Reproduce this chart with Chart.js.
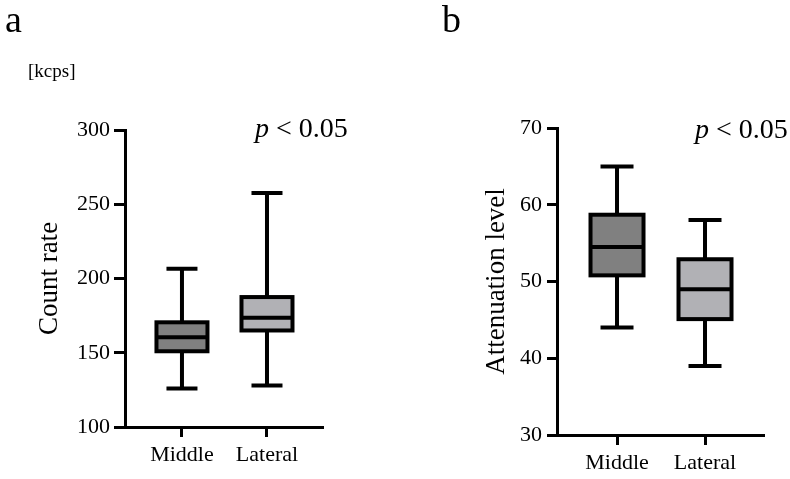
<!DOCTYPE html>
<html>
<head>
    <title>Count rate and attenuation level</title>
    <script src="https://cdn.jsdelivr.net/npm/chart.js"></script>
</head>
<style>
    body { margin: 0; background: #fff; font-family: "Liberation Serif", "Times New Roman", serif; }
    #page { position: relative; width: 790px; height: 479px; }
    .panel { position: absolute; top: 0; width: 395px; height: 479px; }
    .txt { position: absolute; line-height: 1; color: #000; white-space: nowrap; }
</style>
<body>
<div id="page">
    <div class="panel" style="left:0"><canvas id="countChart"></canvas></div>
    <div class="panel" style="left:395px"><canvas id="attenChart"></canvas></div>
    <div class="txt" style="left:5px;top:0;font-size:38px">a</div>
    <div class="txt" style="left:442px;top:0;font-size:38px">b</div>
    <div class="txt" style="left:28px;top:61px;font-size:19px">[kcps]</div>
    <div class="txt" style="left:255px;top:114px;font-size:28px"><i>p</i> &lt; 0.05</div>
    <div class="txt" style="left:695px;top:115px;font-size:28px"><i>p</i> &lt; 0.05</div>
</div>
<script>
    const groups = ['Middle', 'Lateral'];
    const boxColors = ['#808080', '#b1b1b5'];

    // panel a: count rate [kcps]
    const countMin = [126, 128];
    const countQ1 = [151, 165];
    const countMed = [160.5, 173.5];
    const countQ3 = [170.5, 187.5];
    const countMax = [206.5, 257.5];
    const countTicks = [100, 150, 200, 250, 300];

    // panel b: attenuation level
    const attenMin = [44, 39];
    const attenQ1 = [50.8, 45.1];
    const attenMed = [54.5, 49];
    const attenQ3 = [58.7, 52.9];
    const attenMax = [65, 58];
    const attenTicks = [30, 40, 50, 60, 70];

    // whiskers, caps, box outline and median, drawn from the scales
    const boxPlot = {
        id: 'boxPlot',
        afterDatasetsDraw(chart) {
            const ctx = chart.ctx;
            const y = chart.scales.y;
            const st = chart.options.plugins.boxPlot;
            const meta = chart.getDatasetMeta(0);
            ctx.save();
            ctx.strokeStyle = '#000';
            ctx.lineWidth = 4;
            ctx.lineCap = 'butt';
            meta.data.forEach((bar, i) => {
                const x = bar.x;
                const half = bar.width / 2;
                const yMin = y.getPixelForValue(st.min[i]);
                const yQ1 = y.getPixelForValue(st.q1[i]);
                const yMed = y.getPixelForValue(st.med[i]);
                const yQ3 = y.getPixelForValue(st.q3[i]);
                const yMax = y.getPixelForValue(st.max[i]);
                ctx.beginPath();
                ctx.moveTo(x, yMax); ctx.lineTo(x, yQ3);
                ctx.moveTo(x, yQ1); ctx.lineTo(x, yMin);
                ctx.moveTo(x - st.cap / 2, yMax); ctx.lineTo(x + st.cap / 2, yMax);
                ctx.moveTo(x - st.cap / 2, yMin); ctx.lineTo(x + st.cap / 2, yMin);
                ctx.moveTo(x - half, yMed); ctx.lineTo(x + half, yMed);
                ctx.stroke();
                ctx.lineJoin = 'miter';
                ctx.strokeRect(x - half, yQ3, bar.width, yQ1 - yQ3);
            });
            ctx.restore();
        }
    };

    function makeChart(id, s) {
        return new Chart(document.getElementById(id), {
            type: 'bar',
            data: {
                datasets: [{
                    data: groups.map((g, i) => ({ x: i, y: [s.q1[i], s.q3[i]] })),
                    backgroundColor: boxColors,
                    borderWidth: 0,
                    barThickness: s.barWidth
                }]
            },
            options: {
                responsive: true,
                maintainAspectRatio: false,
                animation: false,
                layout: { padding: s.padding },
                plugins: {
                    legend: { display: false },
                    tooltip: { enabled: false },
                    boxPlot: { min: s.min, q1: s.q1, med: s.med, q3: s.q3, max: s.max, cap: s.cap }
                },
                scales: {
                    x: {
                        type: 'linear',
                        offset: false,
                        min: s.xMin,
                        max: s.xMax,
                        afterBuildTicks: sc => { sc.ticks = groups.map((g, i) => ({ value: i })); },
                        afterFit: sc => { sc.height = s.xHeight; },
                        grid: { offset: false, drawOnChartArea: false, drawTicks: true, tickLength: 10, color: '#000', lineWidth: 3 },
                        border: { display: true, color: '#000', width: 3 },
                        ticks: {
                            padding: 5,
                            color: '#000',
                            font: { family: 'Liberation Serif', size: 22 },
                            callback: v => groups[v]
                        }
                    },
                    y: {
                        min: s.ticks[0],
                        max: s.ticks[s.ticks.length - 1],
                        afterBuildTicks: sc => { sc.ticks = s.ticks.map(v => ({ value: v })); },
                        afterFit: sc => { sc.width = s.yWidth; },
                        grid: { drawOnChartArea: false, drawTicks: true, tickLength: s.tickLen, color: '#000', lineWidth: 3 },
                        border: { display: true, color: '#000', width: 3 },
                        ticks: {
                            padding: s.tickPad,
                            color: '#000',
                            font: { family: 'Liberation Serif', size: 22 }
                        },
                        title: {
                            display: true,
                            text: s.title,
                            color: '#000',
                            padding: { top: s.titlePad, bottom: 0 },
                            font: { family: 'Liberation Serif', size: 27 }
                        }
                    }
                }
            },
            plugins: [boxPlot]
        });
    }

    makeChart('countChart', {
        min: countMin, q1: countQ1, med: countMed, q3: countQ3, max: countMax,
        ticks: countTicks, title: 'Count rate',
        xMin: -0.67, xMax: 1.647, barWidth: 51, cap: 31,
        padding: { left: 0, top: 130, right: 73, bottom: 0 },
        xHeight: 52, yWidth: 125, tickLen: 11, tickPad: 4, titlePad: 34
    });

    makeChart('attenChart', {
        min: attenMin, q1: attenQ1, med: attenMed, q3: attenQ3, max: attenMax,
        ticks: attenTicks, title: 'Attenuation level',
        xMin: -0.682, xMax: 1.659, barWidth: 53, cap: 33,
        padding: { left: 0, top: 128, right: 27, bottom: 0 },
        xHeight: 44, yWidth: 162, tickLen: 10, tickPad: 5, titlePad: 86
    });
</script>
</body>
</html>
